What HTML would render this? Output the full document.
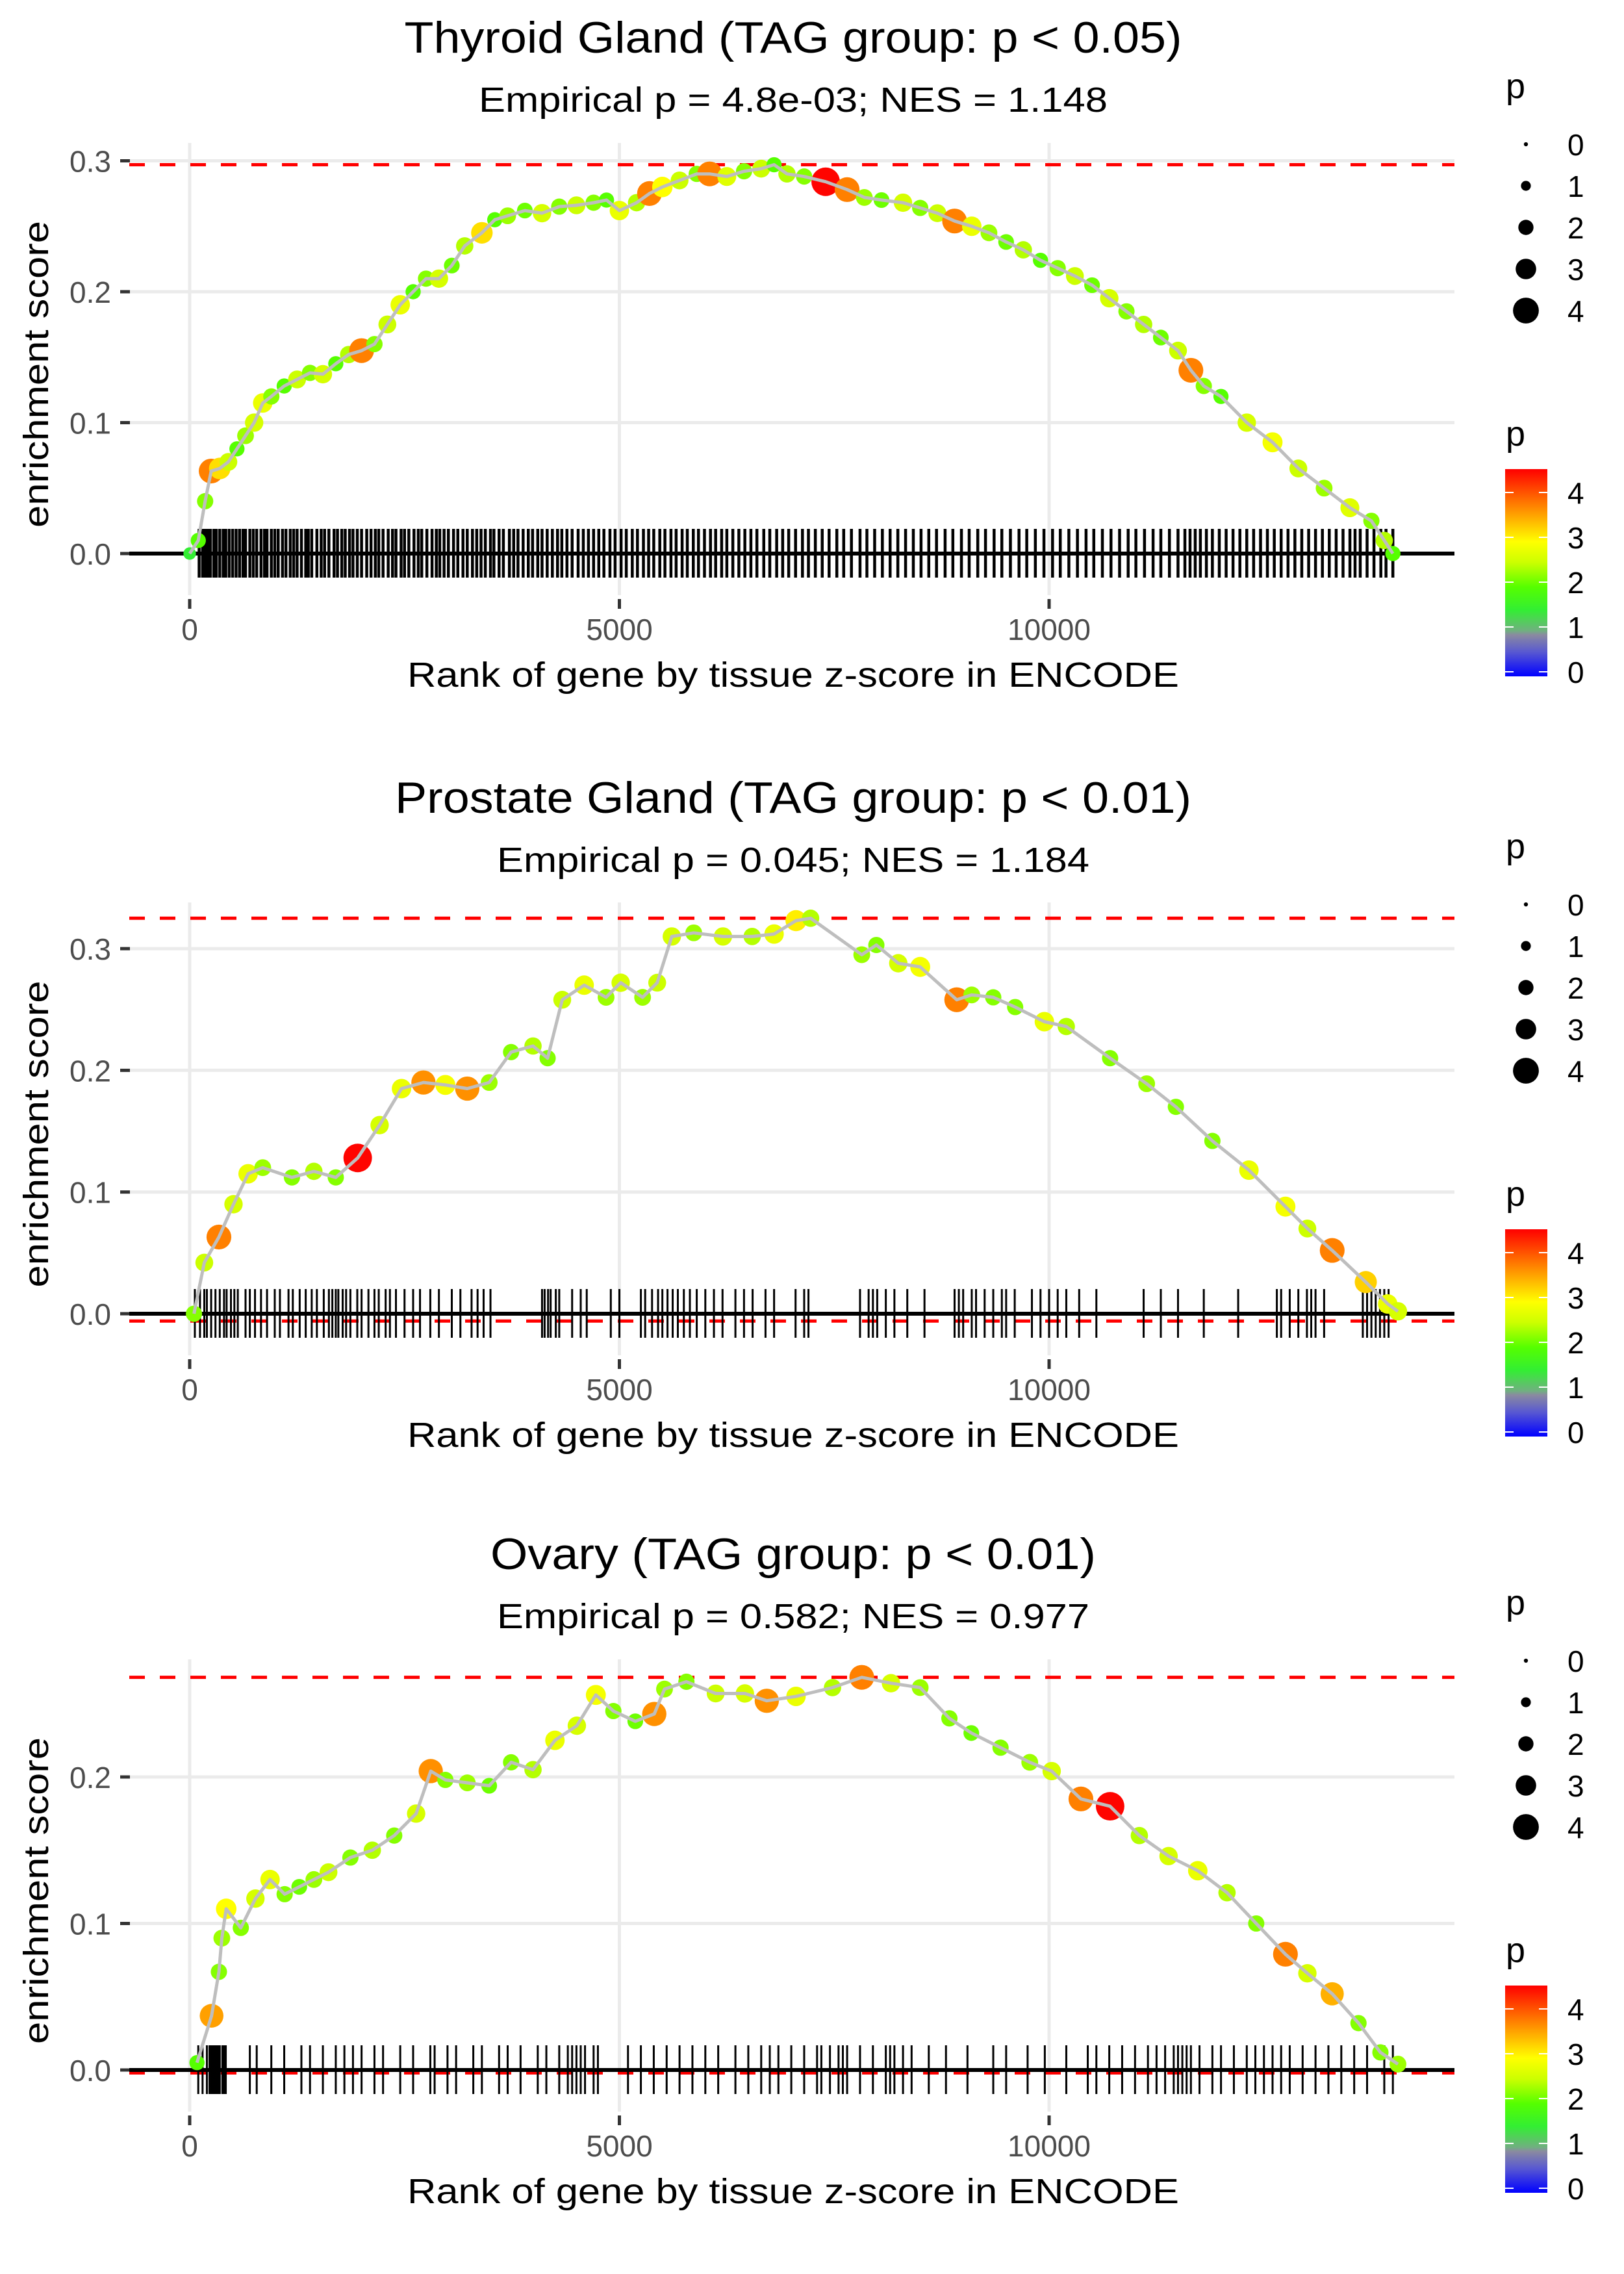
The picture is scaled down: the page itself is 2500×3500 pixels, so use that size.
<!DOCTYPE html>
<html><head><meta charset="utf-8"><style>
html,body{margin:0;padding:0;background:#fff;}
svg{display:block;font-family:"Liberation Sans",Arial,sans-serif;}
</style></head><body>
<svg id="fig" width="2500" height="3500" viewBox="0 0 2500 3500" xmlns="http://www.w3.org/2000/svg">
<rect x="0" y="0" width="2500" height="3500" fill="#fff"/>
<defs>
<linearGradient id="pgrad" x1="0" y1="1" x2="0" y2="0">
<stop offset="0" stop-color="#0000ff"/>
<stop offset="0.12" stop-color="#5a5ad0"/>
<stop offset="0.2" stop-color="#8a8aa0"/>
<stop offset="0.22" stop-color="#70b080"/>
<stop offset="0.32" stop-color="#33ee33"/>
<stop offset="0.43" stop-color="#55ff00"/>
<stop offset="0.55" stop-color="#ccff00"/>
<stop offset="0.65" stop-color="#ffff00"/>
<stop offset="0.76" stop-color="#ffb000"/>
<stop offset="0.87" stop-color="#ff6000"/>
<stop offset="1" stop-color="#ff0000"/>
</linearGradient>
</defs>
</svg>
<script>
// ---------- data ----------
const xTicks = [0, 5000, 10000];
const xTickLabels = ["0", "5000", "10000"];
const yTicks1 = [0, 0.1, 0.2, 0.3];
const yTicks2 = [0, 0.1, 0.2, 0.3];
const yTicks3 = [0, 0.1, 0.2];
const sizeLegendValues = [0, 1, 2, 3, 4];
const colorLegendValues = [0, 1, 2, 3, 4];

const titles = ["Thyroid Gland (TAG group: p < 0.05)", "Prostate Gland (TAG group: p < 0.01)", "Ovary (TAG group: p < 0.01)"];
const subtitles = ["Empirical p = 4.8e-03; NES = 1.148", "Empirical p = 0.045; NES = 1.184", "Empirical p = 0.582; NES = 0.977"];

const ranks1 = [0,100,180,250,350,450,550,650,750,850,950,1100,1250,1400,1550,1700,1850,2000,2150,2300,2450,2600,2750,2900,3050,3200,3400,3550,3700,3900,4100,4300,4500,4700,4850,5000,5200,5350,5500,5700,5900,6050,6250,6450,6650,6800,6950,7150,7400,7650,7850,8050,8300,8500,8700,8900,9100,9300,9500,9700,9900,10100,10300,10500,10700,10900,11100,11300,11500,11650,11800,12000,12300,12600,12900,13200,13500,13750,13900,14000];
const es1 = [0,0.01,0.04,0.063,0.065,0.07,0.08,0.09,0.1,0.115,0.12,0.128,0.133,0.138,0.137,0.145,0.152,0.155,0.16,0.175,0.19,0.2,0.21,0.21,0.22,0.235,0.245,0.255,0.258,0.262,0.26,0.265,0.266,0.268,0.27,0.262,0.268,0.275,0.28,0.285,0.29,0.29,0.288,0.292,0.294,0.297,0.29,0.288,0.284,0.278,0.272,0.27,0.268,0.264,0.26,0.254,0.25,0.245,0.238,0.232,0.224,0.218,0.212,0.205,0.195,0.185,0.175,0.165,0.155,0.14,0.128,0.12,0.1,0.085,0.065,0.05,0.035,0.025,0.01,0.0];
const p1 = [1.5,2,2.2,3.8,3.2,2.5,2,2.3,2.6,2.8,2.2,2,2.5,2.2,2.6,2,2.4,3.8,2.2,2.5,2.8,2,2.2,2.6,2.1,2.4,3.2,2,2.3,2.1,2.6,2.2,2.5,2.2,2,2.8,2.4,3.8,3,2.5,2.2,3.8,2.7,2.2,2.5,2,2.4,2.2,4.5,3.8,2.3,2.1,2.6,2.2,2.5,3.8,2.8,2.3,2.1,2.4,2,2.2,2.5,2.1,2.6,2.2,2.4,2.1,2.5,3.8,2.2,2,2.6,2.9,2.5,2.3,2.7,2.2,2.4,2];
const rug1 = [110,150,180,210,240,280,310,350,390,420,460,500,540,580,620,650,700,740,780,830,870,900,950,990,1030,1080,1120,1170,1210,1250,1300,1350,1380,1420,1480,1530,1570,1620,1680,1720,1770,1810,1860,1900,1950,2000,2060,2110,2160,2200,2250,2310,2360,2400,2460,2500,2550,2610,2660,2700,2760,2820,2870,2910,2960,3010,3070,3120,3180,3230,3290,3340,3390,3440,3500,3540,3600,3650,3720,3770,3820,3880,3940,3990,4050,4100,4160,4220,4280,4330,4390,4450,4520,4580,4640,4700,4760,4820,4890,4950,5020,5080,5150,5210,5280,5340,5400,5470,5530,5600,5660,5730,5790,5860,5920,5990,6060,6120,6190,6250,6320,6390,6460,6530,6600,6680,6750,6830,6900,6970,7050,7130,7200,7280,7360,7440,7530,7610,7700,7800,7880,7970,8060,8150,8240,8330,8420,8510,8600,8690,8790,8880,8980,9070,9170,9260,9360,9450,9550,9650,9740,9840,9940,10040,10130,10230,10330,10430,10520,10620,10720,10820,10920,11010,11110,11210,11300,11400,11500,11580,11640,11700,11760,11830,11900,11980,12060,12140,12220,12300,12380,12460,12540,12620,12700,12780,12860,12940,13020,13100,13180,13260,13340,13420,13500,13560,13620,13700,13780,13860,13920,14000];

const ranks2 = [50,170,340,510,680,850,1190,1445,1700,1955,2210,2465,2720,2975,3230,3485,3740,3995,4165,4335,4590,4845,5015,5270,5440,5610,5865,6205,6545,6800,7055,7225,7820,7990,8245,8500,8925,9100,9350,9605,9945,10200,10710,11135,11475,11900,12325,12750,13005,13294,13685,13940,14059];
const es2 = [0,0.042,0.063,0.09,0.115,0.12,0.112,0.117,0.112,0.128,0.155,0.185,0.19,0.188,0.185,0.19,0.215,0.22,0.21,0.258,0.27,0.26,0.272,0.26,0.272,0.31,0.313,0.31,0.31,0.312,0.323,0.325,0.295,0.303,0.288,0.285,0.258,0.262,0.26,0.252,0.24,0.236,0.21,0.189,0.17,0.142,0.118,0.088,0.07,0.052,0.026,0.008,0.002];
const p2 = [2.2,2.5,3.8,2.6,2.8,2.3,2.2,2.4,2.2,4.5,2.6,2.8,3.7,2.9,3.7,2.3,2.2,2.4,2.2,2.5,2.8,2.3,2.6,2.3,2.5,2.6,2.3,2.6,2.4,2.8,3.1,2.4,2.3,2.2,2.6,2.9,3.8,2.3,2.2,2.2,2.8,2.4,2.2,2.3,2.2,2.2,2.8,2.9,2.5,3.8,3.3,2.8,2.6];
const rug2 = [60,120,170,200,250,300,350,400,430,480,520,560,650,700,760,830,900,990,1050,1150,1200,1280,1350,1420,1480,1560,1620,1660,1700,1730,1780,1820,1870,1950,2000,2080,2150,2200,2280,2330,2400,2500,2600,2680,2800,2900,3050,3150,3280,3350,3420,3500,4100,4130,4170,4200,4260,4300,4450,4550,4620,4900,5000,5250,5300,5380,5450,5500,5560,5620,5680,5750,5820,5900,6000,6100,6200,6350,6450,6550,6700,6800,7050,7150,7200,7800,7900,7950,8000,8100,8200,8350,8550,8900,8950,9000,9100,9150,9250,9350,9450,9500,9600,9800,9900,10000,10100,10200,10350,10550,11100,11300,11500,11800,12200,12650,12700,12800,12900,13000,13050,13100,13200,13650,13700,13750,13800,13850,13900,13950];

const ranks3 = [85,255,340,374,425,595,765,935,1105,1275,1445,1615,1870,2125,2380,2635,2805,2975,3230,3485,3740,3995,4250,4505,4726,4930,5185,5406,5525,5780,6120,6460,6715,7055,7480,7820,8160,8500,8840,9095,9435,9775,10030,10370,10710,11050,11390,11730,12070,12410,12750,13005,13294,13600,13855,14059];
const es3 = [0.005,0.037,0.067,0.09,0.11,0.097,0.117,0.13,0.12,0.125,0.13,0.135,0.145,0.15,0.16,0.175,0.204,0.198,0.196,0.194,0.21,0.205,0.225,0.235,0.256,0.245,0.238,0.243,0.26,0.265,0.257,0.257,0.252,0.255,0.261,0.268,0.264,0.261,0.24,0.23,0.22,0.21,0.204,0.185,0.18,0.16,0.146,0.136,0.121,0.1,0.079,0.066,0.052,0.032,0.012,0.004];
const p3 = [2,3.6,2.2,2.3,3,2.2,2.6,2.8,2.2,2.1,2.3,2.5,2.2,2.4,2.2,2.6,3.7,2.2,2.3,2.1,2.2,2.4,2.8,2.6,2.9,2.2,2.1,3.7,2.3,2.2,2.5,2.6,3.7,2.8,2.4,3.8,2.6,2.3,2.2,2.1,2.2,2.3,2.6,3.8,4.5,2.4,2.6,2.8,2.4,2.2,3.8,2.6,3.5,2.2,2.2,2.3];
const rug3 = [100,150,200,230,250,270,290,310,330,350,380,400,420,700,780,950,1100,1300,1400,1550,1700,1800,1900,2000,2150,2250,2450,2600,2800,2850,3000,3100,3300,3400,3600,3700,3850,4050,4150,4300,4400,4450,4500,4550,4600,4700,4750,5100,5250,5400,5550,5700,5850,6000,6150,6350,6500,6650,6750,6850,7000,7150,7300,7350,7450,7550,7600,7650,7800,7950,8100,8150,8200,8300,8400,8600,8800,9050,9350,9500,9750,9950,10200,10450,10550,10700,10850,11000,11150,11250,11350,11450,11500,11550,11600,11650,11750,11900,12000,12150,12300,12400,12500,12600,12700,12800,12950,13100,13250,13400,13550,13700,13900,14000];

// ---------- layout ----------
const NS = "http://www.w3.org/2000/svg";
const svg = document.getElementById('fig');
function mk(tag, attrs, parent) {
  const e = document.createElementNS(NS, tag);
  for (const k in attrs) e.setAttribute(k, attrs[k]);
  (parent || svg).appendChild(e);
  return e;
}
const X0 = 292, XPER = 0.1323, PL = 199, PR = 2239;
function xs(r) { return X0 + r * XPER; }

const pStops = [[0,[0,0,255]],[0.55,[90,90,208]],[0.95,[138,138,160]],[1.05,[112,176,128]],[1.5,[51,238,51]],[2,[85,255,0]],[2.5,[204,255,0]],[3,[255,255,0]],[3.5,[255,176,0]],[4,[255,96,0]],[4.52,[255,0,0]]];
function pColor(v) {
  if (v <= pStops[0][0]) return 'rgb(0,0,255)';
  for (let i = 1; i < pStops.length; i++) {
    if (v <= pStops[i][0]) {
      const a = pStops[i-1], b = pStops[i], t = (v - a[0]) / (b[0] - a[0]);
      const c = a[1].map((x, j) => Math.round(x + (b[1][j] - x) * t));
      return 'rgb(' + c.join(',') + ')';
    }
  }
  return 'rgb(255,0,0)';
}
function pRadius(v) { return 3.5 + 4.1 * v; }

const panels = [
  {zero: 852, unit: 2015, top: 220, bottom: 916, ranks: ranks1, es: es1, p: p1, rug: rug1, yTicks: yTicks1, dy: 0, rugW: 4.5},
  {zero: 2022, unit: 1873, top: 1389, bottom: 2086, ranks: ranks2, es: es2, p: p2, rug: rug2, yTicks: yTicks2, dy: 1170, rugW: 3},
  {zero: 3186, unit: 2255, top: 2554, bottom: 3250, ranks: ranks3, es: es3, p: p3, rug: rug3, yTicks: yTicks3, dy: 2334, rugW: 3}
];

panels.forEach((P, idx) => {
  const n = idx + 1;
  const g = mk('g', {});
  
  
  const ys = v => P.zero - v * P.unit;

  const t = mk('text', {x: 1221, y: 57 + P.dy + 24, 'text-anchor': 'middle', 'font-size': 68, fill: '#000', textLength: [1197,1226,932][idx], lengthAdjust: 'spacingAndGlyphs'}, g);
  t.textContent = titles[idx];
  
  
  const st = mk('text', {x: 1221, y: 153 + P.dy + 19, 'text-anchor': 'middle', 'font-size': 54, fill: '#000', textLength: [968,912,912][idx], lengthAdjust: 'spacingAndGlyphs'}, g);
  st.textContent = subtitles[idx];
  
  

  P.yTicks.forEach(v => {
    const l = mk('line', {x1: PL, x2: PR, y1: ys(v), y2: ys(v), stroke: '#ebebeb', 'stroke-width': 5}, g);
    
    
  });
  xTicks.forEach(v => {
    const l = mk('line', {x1: xs(v), x2: xs(v), y1: P.top, y2: P.bottom, stroke: '#ebebeb', 'stroke-width': 5}, g);
    
    
  });

  P.yTicks.forEach(v => {
    const tk = mk('line', {x1: 185, x2: 200, y1: ys(v), y2: ys(v), stroke: '#333', 'stroke-width': 5}, g);
    
    
    const lb = mk('text', {x: 171, y: ys(v) + 17, 'text-anchor': 'end', 'font-size': 46, fill: '#4d4d4d'}, g);
    lb.textContent = v.toFixed(1);
    
    
  });
  xTicks.forEach((v, i) => {
    const tk = mk('line', {x1: xs(v), x2: xs(v), y1: P.bottom + 6, y2: P.bottom + 21, stroke: '#333', 'stroke-width': 5}, g);
    
    
    const lb = mk('text', {x: xs(v), y: P.bottom + 52 + 17, 'text-anchor': 'middle', 'font-size': 46, fill: '#4d4d4d'}, g);
    lb.textContent = xTickLabels[i];
    
    
  });
  const xt = mk('text', {x: 1221, y: P.bottom + 122 + 19, 'text-anchor': 'middle', 'font-size': 54, fill: '#000', textLength: 1188, lengthAdjust: 'spacingAndGlyphs'}, g);
  xt.textContent = 'Rank of gene by tissue z-score in ENCODE';
  
  
  const yc = (P.top + P.bottom) / 2 + 8;
  const yt = mk('text', {x: 0, y: 0, transform: 'translate(74,' + yc + ') rotate(-90)', 'text-anchor': 'middle', 'font-size': 54, fill: '#000', textLength: 472, lengthAdjust: 'spacingAndGlyphs'}, g);
  yt.textContent = 'enrichment score';
  
  

  const mx = Math.max(...P.es), mn = Math.min(...P.es) - (idx === 0 ? 0 : 0.006);
  [mx, mn].forEach(v => {
    const d = mk('line', {x1: PL, x2: PR, y1: ys(v), y2: ys(v), stroke: '#ff0000', 'stroke-width': 5, 'stroke-dasharray': '24 23'}, g);
    
    
  });
  const z = mk('line', {x1: PL, x2: PR, y1: ys(0), y2: ys(0), stroke: '#000', 'stroke-width': 6}, g);
  
  
  P.rug.forEach(r => {
    const l = mk('line', {x1: xs(r), x2: xs(r), y1: ys(0) - 38, y2: ys(0) + 37, stroke: '#000', 'stroke-width': P.rugW}, g);
    
    
  });
  P.ranks.forEach((r, i) => {
    const c = mk('circle', {cx: xs(r), cy: ys(P.es[i]), r: pRadius(P.p[i]), fill: pColor(P.p[i])}, g);
    
    
  });
  const pts = P.ranks.map((r, i) => xs(r).toFixed(1) + ',' + ys(P.es[i]).toFixed(1)).join(' ');
  const pl = mk('polyline', {points: pts, fill: 'none', stroke: '#bebebe', 'stroke-width': 5, 'stroke-linejoin': 'round'}, g);
  
  

  const lt = mk('text', {x: 2318, y: 137 + P.dy + 14, 'font-size': 54, fill: '#000'}, g);
  lt.textContent = 'p';
  
  
  sizeLegendValues.forEach((v, i) => {
    const cy = 222 + i * 64 + P.dy;
    const c = mk('circle', {cx: 2349, cy: cy, r: pRadius(v) * (v === 0 ? 0.9 : 1), fill: '#000'}, g);
    
    
    const tx = mk('text', {x: 2413, y: cy + 17, 'font-size': 46, fill: '#000'}, g);
    tx.textContent = String(v);
    
    
  });
  const ct = mk('text', {x: 2318, y: 672 + P.dy + 14, 'font-size': 54, fill: '#000'}, g);
  ct.textContent = 'p';
  
  
  const bar = mk('rect', {x: 2317, y: 722 + P.dy, width: 65, height: 319, fill: 'url(#pgrad)'}, g);
  
  
  colorLegendValues.forEach(v => {
    const cy = 1034 - v * 69 + P.dy;
    const t1 = mk('line', {x1: 2317, x2: 2330, y1: cy, y2: cy, stroke: '#fff', 'stroke-width': 2}, g);
    
    
    const t2 = mk('line', {x1: 2369, x2: 2382, y1: cy, y2: cy, stroke: '#fff', 'stroke-width': 2}, g);
    
    
    const tx = mk('text', {x: 2413, y: cy + 17, 'font-size': 46, fill: '#000'}, g);
    tx.textContent = String(v);
    
    
  });
});
</script>
</body></html>
